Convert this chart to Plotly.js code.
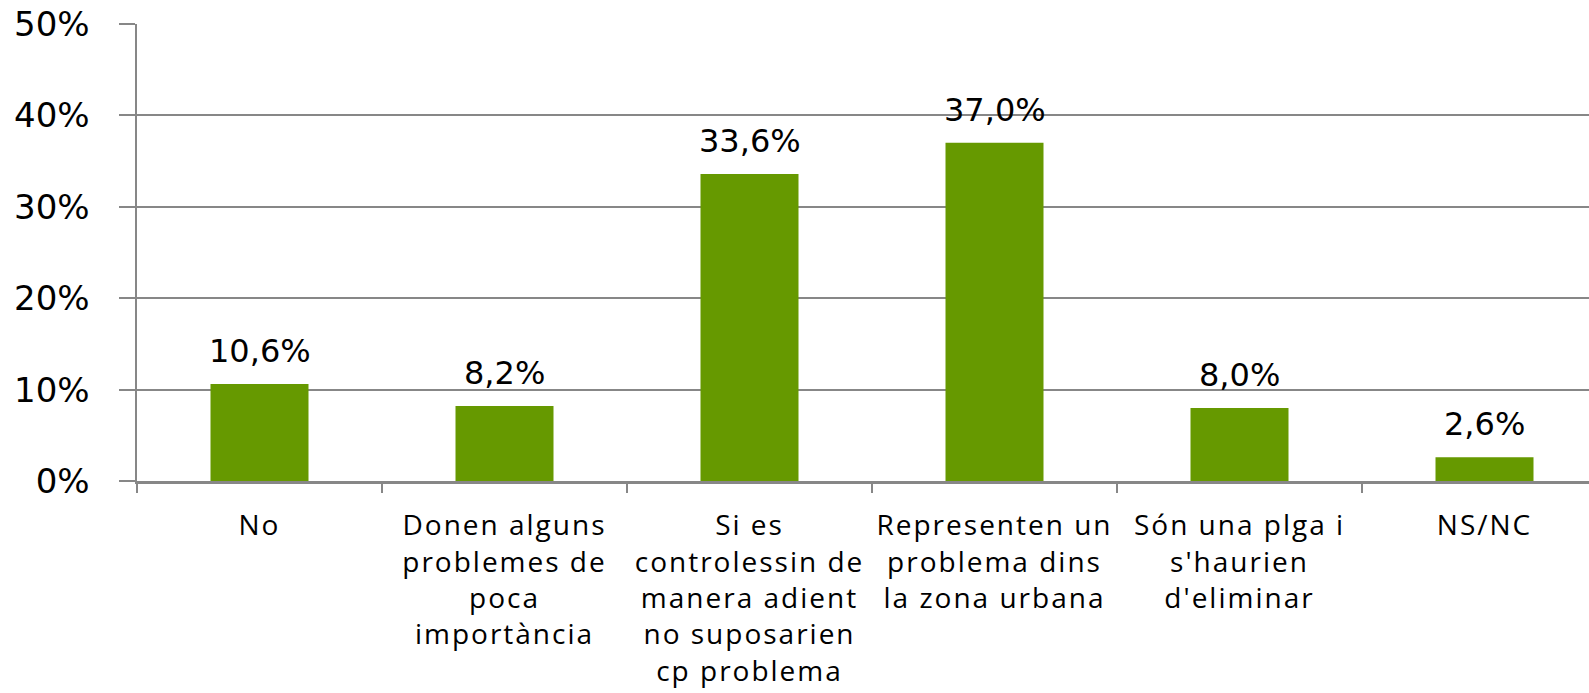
<!DOCTYPE html>
<html>
<head>
<meta charset="utf-8">
<script src="https://cdn.plot.ly/plotly-3.0.1.min.js"></script>
<style>
  html, body { margin: 0; padding: 0; overflow: hidden; background: #fff; }
  #chart { width: 1640px; height: 693px; }
  .xtick text { letter-spacing: 2px; }
</style>
</head>
<body>
<div id="chart"></div>
<script>
const categories = [
  "No",
  "Donen alguns<br>problemes de<br>poca<br>importància",
  "Si es<br>controlessin de<br>manera adient<br>no suposarien<br>cp problema",
  "Representen un<br>problema dins<br>la zona urbana",
  "Són una plga i<br>s'haurien<br>d'eliminar",
  "NS/NC"
];
const values = [10.6, 8.2, 33.6, 37.0, 8.0, 2.6];
const yTickVals = [0, 10, 20, 30, 40, 50];
const yTickText = yTickVals.map(v => v + "%");

const gray = "#878787";
const green = "#669900";

const trace = {
  type: "bar",
  x: categories,
  y: values,
  marker: { color: green, line: { width: 0 } },
  hoverinfo: "skip"
};

const annotations = categories.map((c, i) => ({
  x: c,
  y: values[i],
  xref: "x",
  yref: "y",
  text: values[i].toFixed(1).replace(".", ",") + "%",
  showarrow: false,
  yanchor: "bottom",
  xanchor: "center",
  yshift: 12,
  font: { family: "DejaVu Sans", size: 32, color: "#000" }
}));

const layout = {
  width: 1640,
  height: 693,
  margin: { l: 137, r: 33, t: 24, b: 212 },
  paper_bgcolor: "#fff",
  plot_bgcolor: "#fff",
  showlegend: false,
  bargap: 0.6,
  xaxis: {
    type: "category",
    tickson: "boundaries",
    ticks: "outside",
    ticklen: 9,
    tickwidth: 2,
    tickcolor: gray,
    showline: true,
    linecolor: gray,
    linewidth: 2.5,
    showgrid: false,
    ticklabelstandoff: 18,
    tickfont: { family: "Open Sans", size: 28, color: "#000" },
    tickangle: 0,
    fixedrange: true
  },
  yaxis: {
    range: [0, 50],
    tickmode: "array",
    tickvals: yTickVals,
    ticktext: yTickText,
    ticks: "outside",
    ticklen: 16,
    tickwidth: 2,
    tickcolor: gray,
    showline: true,
    linecolor: gray,
    linewidth: 2.5,
    showgrid: true,
    gridcolor: gray,
    gridwidth: 2,
    zeroline: false,
    ticklabelstandoff: 22,
    tickfont: { family: "DejaVu Sans", size: 34, color: "#000" },
    fixedrange: true
  },
  annotations: annotations
};

Plotly.newPlot("chart", [trace], layout, { displayModeBar: false, staticPlot: true });
</script>
</body>
</html>
